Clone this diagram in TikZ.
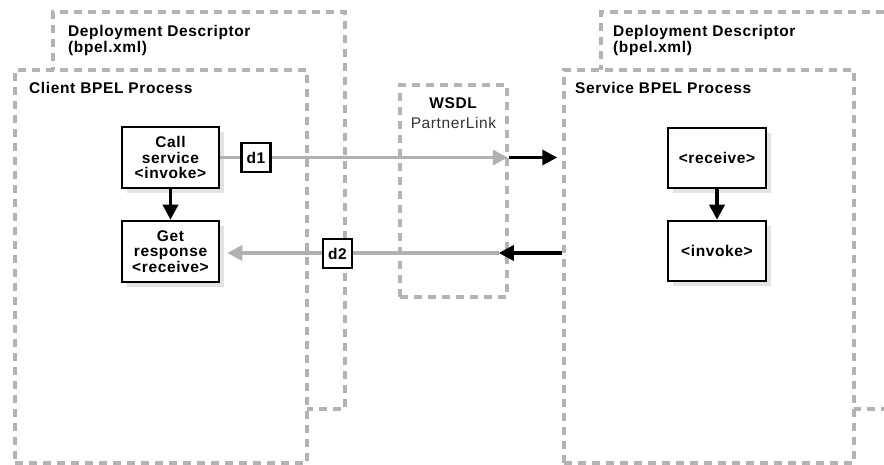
\documentclass[tikz,border=0pt]{standalone}
\usepackage{fontspec}
\setmainfont{Liberation Sans}[LetterSpace=4]
\usetikzlibrary{arrows.meta}
\definecolor{dashgray}{HTML}{B3B3B3}
\definecolor{linegray}{HTML}{B0B0B0}
\definecolor{shadowgray}{HTML}{E3E3E3}
\definecolor{labelgray}{HTML}{333333}
\tikzset{
  container/.style={draw=dashgray, line width=3.5pt, dash pattern=on 8pt off 6pt,
    fill=white, rectangle, inner sep=0pt},
  activity/.style={draw=black, line width=2.5pt, fill=white, rectangle, align=center,
    inner sep=0pt, font=\fontsize{15.5}{15.5}\selectfont\bfseries},
  shadowbox/.style={fill=shadowgray, draw=none},
  datalabel/.style={draw=black, line width=2.5pt, fill=white, rectangle, inner sep=0pt,
    minimum width=29pt, minimum height=29pt, font=\fontsize{15.5}{15.5}\selectfont\bfseries},
  heading/.style={inner sep=0pt, align=left, font=\fontsize{15.5}{15.5}\selectfont\bfseries},
  flow/.style={line width=3.5pt, -{Triangle[length=15pt,width=15pt]}},
  blackflow/.style={flow, draw=black},
  grayflow/.style={flow, draw=linegray},
}
\begin{document}
\begin{tikzpicture}[x=1pt,y=-1pt]
\useasboundingbox (0,0) rectangle (884,465);
\clip (0,0) rectangle (884,465);

% deployment descriptors behind the process boxes
\node[container, minimum width=292pt, minimum height=397pt] (cdd) at (199,210.5) {};
\node[container, minimum width=292pt, minimum height=393pt] (client) at (161,266.5) {};
\node[container, minimum width=300pt, minimum height=397pt] (sdd) at (751,210.5) {};
\node[container, minimum width=290pt, minimum height=393pt] (service) at (709,266.5) {};
\node[container, fill=none, minimum width=107pt, minimum height=212pt] (wsdl) at (453.5,191) {};

% headings
\node[heading, anchor=north west] (cddtext) at (68,25.5) {Deployment Descriptor\\(bpel.xml)};
\node[heading, anchor=north west] (sddtext) at (613,25.5) {Deployment Descriptor\\(bpel.xml)};
\node[heading, anchor=base west] (clienttext) at (29,93.5) {Client BPEL Process};
\node[heading, anchor=base west] (servicetext) at (575,93.5) {Service BPEL Process};
\node[inner sep=0pt, anchor=north, align=center, font=\fontsize{15.5}{20}\selectfont]
  (wsdltext) at (453.5,97) {\textbf{WSDL}\\\textcolor{labelgray}{PartnerLink}};

% drop shadows of the activity boxes
\fill[shadowbox] (127,132) rectangle (224,193);
\fill[shadowbox] (127,226) rectangle (224,287);
\fill[shadowbox] (673,133) rectangle (771,193);
\fill[shadowbox] (673,226) rectangle (771,286);

% activities
\node[activity, minimum width=97pt, minimum height=61pt] (call) at (170.5,157.5) {Call\\service\\<invoke>};
\node[activity, minimum width=97pt, minimum height=61pt] (get) at (170.5,251.5) {Get\\response\\<receive>};
\node[activity, minimum width=98pt, minimum height=60pt] (recv) at (717,158) {<receive>};
\node[activity, minimum width=98pt, minimum height=60pt] (inv) at (717,251) {<invoke>};

% control flow inside the processes
\draw[blackflow] (call) -- (get);
\draw[blackflow] (recv) -- (inv);

% message d1: client to service
\coordinate (d1end) at (wsdl.east |- call.east);
\draw[grayflow, shorten >=1pt] (call.east) -- (d1end);
\draw[blackflow, shorten >=5pt] (d1end) -- (service.west |- call.east);
\node[datalabel] (d1) at (256,157.5) {d1};

% message d2: service back to client
\coordinate (d2in) at (service.west |- 0,253);
\coordinate (d2mid) at ([xshift=-10pt]wsdl.east |- 0,253);
\draw[blackflow] (d2in) -- (d2mid);
\draw[grayflow, shorten >=7pt] (d2mid) -- (get.east |- 0,253);
\node[datalabel] (d2) at (337.5,253.5) {d2};
\end{tikzpicture}
\end{document}
